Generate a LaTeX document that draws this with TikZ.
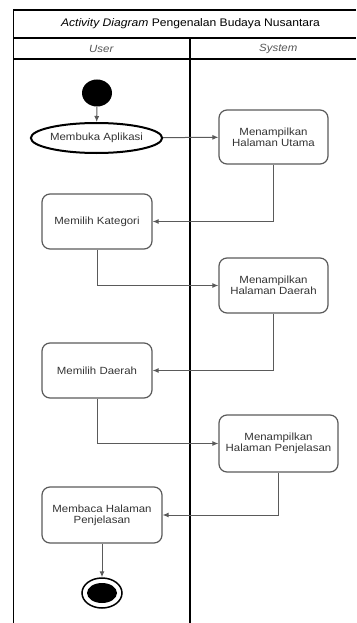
\documentclass[tikz,border=0pt]{standalone}
\usepackage{fontspec}
\setmainfont{Liberation Sans}[FakeStretch=1.1]
\usetikzlibrary{shapes.geometric,arrows.meta}
\definecolor{boxgray}{HTML}{5A5A5A}
\definecolor{txtgray}{HTML}{333333}
\definecolor{hdrgray}{HTML}{555555}
\tikzset{
  frameline/.style={draw=black, line width=1.1pt},
  act/.style={draw=boxgray, line width=1.2pt, rounded corners=8pt, align=center,
    text=txtgray, font=\fontsize{10.4}{11}\selectfont, inner sep=0pt},
  flow/.style={draw=boxgray, line width=1pt, -{Latex[length=6pt,width=5pt]}},
  hdr/.style={text=hdrgray, font=\fontsize{10.4}{11}\selectfont\itshape},
}
\begin{document}
\begin{tikzpicture}[x=1pt,y=-1pt]
\useasboundingbox (0,0) rectangle (356,623);
% frame
\draw[frameline] (356,10) -- (13.7,10) -- (13.7,623);
\draw[frameline] (13.7,38) -- (356,38);
\draw[frameline] (13.7,59) -- (356,59);
\draw[frameline] (190,38) -- (190,623);
\node[font=\fontsize{11}{12}\selectfont] (title) at (190.5,24) {\textit{Activity Diagram} Pengenalan Budaya Nusantara};
\node[hdr] (huser) at (101.3,49) {User};
\node[hdr] (hsys) at (278.3,49) {System};
% nodes
\node[ellipse, fill=black, minimum width=30pt, minimum height=27pt, inner sep=0pt] (start) at (97,93) {};
\node[ellipse, draw=black, line width=2pt, minimum width=115pt, minimum height=30pt, inner sep=0pt,
  text=txtgray, font=\fontsize{10.4}{11}\selectfont] (membuka) at (96.5,138) {Membuka Aplikasi};
\node[act, minimum width=109pt, minimum height=54pt] (utama) at (273.5,137) {Menampilkan\\Halaman Utama};
\node[act, minimum width=110pt, minimum height=55pt] (kategori) at (97,221.5) {Memilih Kategori};
\node[act, minimum width=109pt, minimum height=55pt] (daerahS) at (273.5,285.5) {Menampilkan\\Halaman Daerah};
\node[act, minimum width=110pt, minimum height=55pt] (daerahU) at (97,370.5) {Memilih Daerah};
\node[act, minimum width=119pt, minimum height=57pt] (penjS) at (278.5,443.5) {Menampilkan\\Halaman Penjelasan};
\node[act, minimum width=120pt, minimum height=56pt] (membaca) at (102,515) {Membaca Halaman\\Penjelasan};
\node[ellipse, draw=black, line width=1.5pt, minimum width=40pt, minimum height=30pt, inner sep=0pt] (endo) at (102,593) {};
\node[ellipse, fill=black, minimum width=30pt, minimum height=20pt, inner sep=0pt] (endi) at (102,593) {};
% connectors
\draw[flow] (start) -- (membuka);
\draw[flow] (membuka) -- (utama);
\draw[flow] (utama.south) |- (kategori.east);
\draw[flow] (kategori.south) |- (daerahS.west);
\draw[flow] (daerahS.south) |- (daerahU.east);
\draw[flow] (daerahU.south) |- (penjS.west);
\draw[flow] (penjS.south) |- (membaca.east);
\draw[flow] (membaca) -- (endo);
\end{tikzpicture}
\end{document}
